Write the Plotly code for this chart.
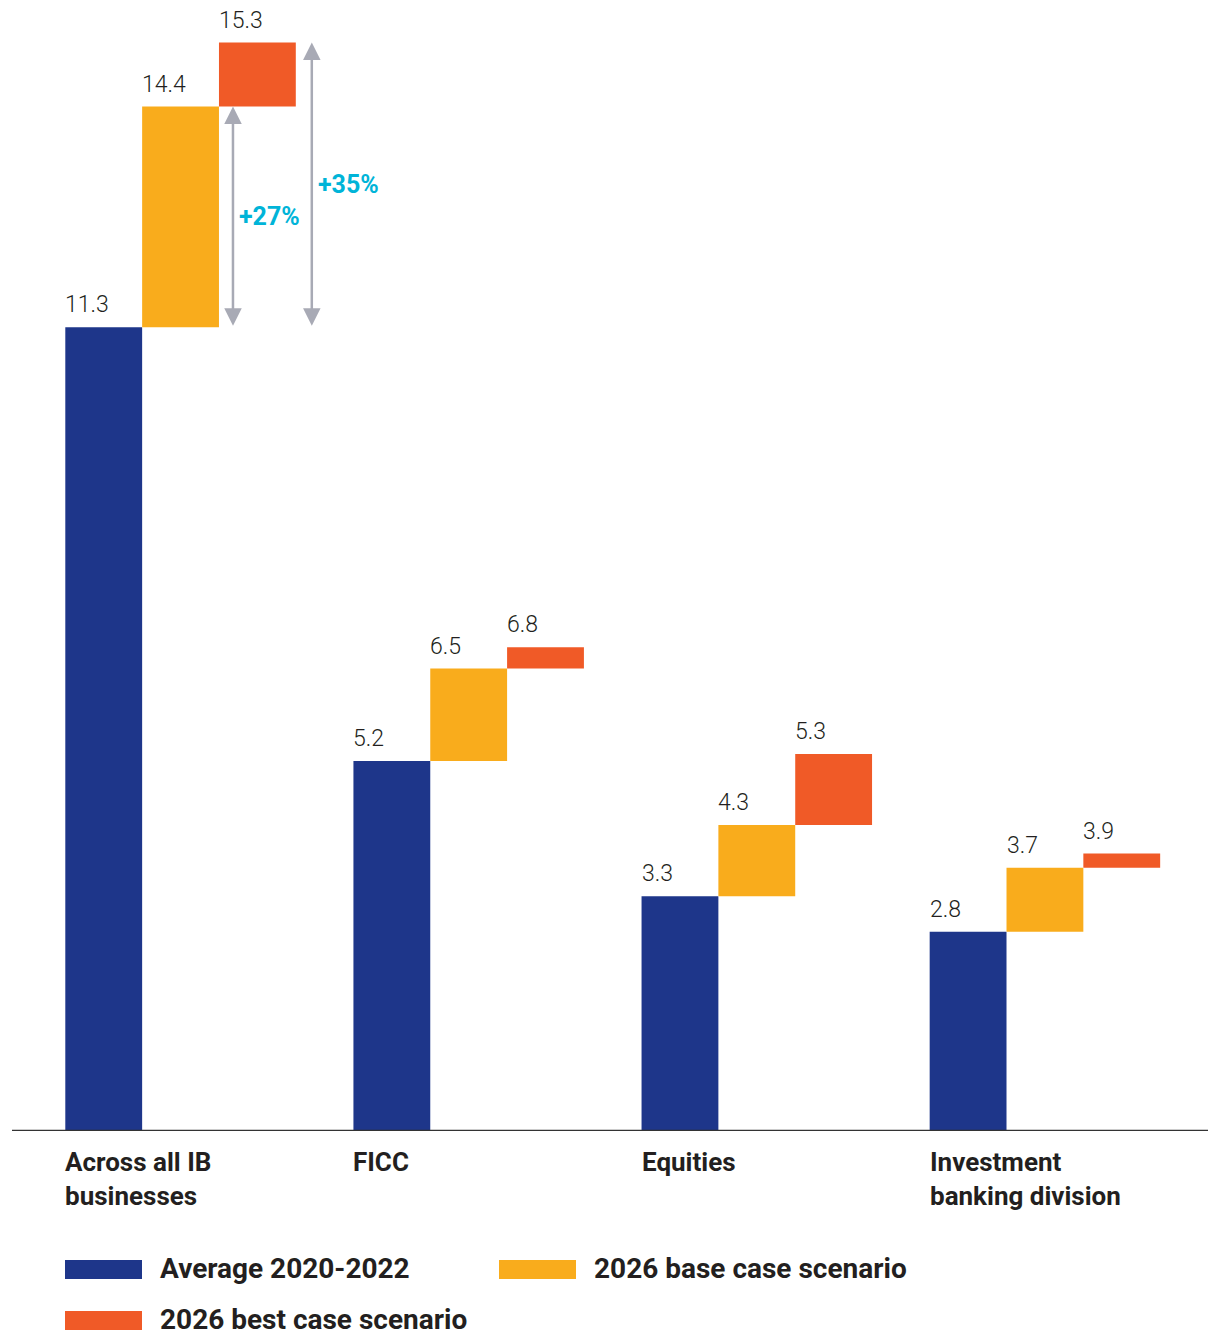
import plotly.graph_objects as go

# Revenue figures by business line
categories = ["Across all IB<br>businesses", "FICC", "Equities", "Investment<br>banking division"]
average_2020_2022 = [11.3, 5.2, 3.3, 2.8]
base_case_2026 = [14.4, 6.5, 4.3, 3.7]
best_case_2026 = [15.3, 6.8, 5.3, 3.9]
series_names = ["Average 2020-2022", "2026 base case scenario", "2026 best case scenario"]
growth_labels = ["+27%", "+35%"]

BLUE = "#1E368A"
ORANGE = "#F9AC1C"
RED = "#F05A27"
TEXT = "#231F20"
GREY = "#A8AAB5"
CYAN = "#00B4D8"

W, H = 1208, 1335
ML, MR, MT, MB = 12, 0, 7, 204
X_RANGE = [-0.585, 3.566]
Y_RANGE = [0, 15.8]
BAR_W = 0.8 / 3  # three bars sharing 80% of each slot

idx = list(range(len(categories)))

fig = go.Figure()
fig.add_trace(go.Bar(x=idx, y=average_2020_2022, base=[0] * len(idx),
                     marker_color=BLUE, name=series_names[0]))
fig.add_trace(go.Bar(x=idx, y=[b - a for a, b in zip(average_2020_2022, base_case_2026)],
                     base=average_2020_2022, marker_color=ORANGE, name=series_names[1]))
fig.add_trace(go.Bar(x=idx, y=[c - b for b, c in zip(base_case_2026, best_case_2026)],
                     base=base_case_2026, marker_color=RED, name=series_names[2]))
for t in fig.data:
    t.update(marker_line_width=0, hoverinfo="skip")

annotations = []
value_font = dict(family="Roboto", size=23, color=TEXT, weight=300)

# value labels, left-aligned over each bar
for i in idx:
    for k, vals in enumerate([average_2020_2022, base_case_2026, best_case_2026]):
        left = i + (k - 1.5) * BAR_W
        annotations.append(dict(x=left, y=vals[i], xref="x", yref="y", text=f"{vals[i]:.1f}",
                                showarrow=False, xanchor="left", yanchor="bottom",
                                xshift=-2, yshift=7, font=value_font))

# category labels under the axis
for i, cat in enumerate(categories):
    annotations.append(dict(x=i - 1.5 * BAR_W, y=0, xref="x", yref="y", text=f"<b>{cat}</b>",
                            showarrow=False, xanchor="left", yanchor="top", align="left",
                            xshift=-2, yshift=-14,
                            font=dict(family="Roboto", size=26, color=TEXT)))

# growth arrows for the all-business group
px_per_x = (W - ML - MR) / (X_RANGE[1] - X_RANGE[0])
arrow_specs = [
    (0.5 * BAR_W + 14 / px_per_x, base_case_2026[0], growth_labels[0]),
    (1.5 * BAR_W + 16 / px_per_x, best_case_2026[0], growth_labels[1]),
]
start = average_2020_2022[0]
for ax_x, top, lbl in arrow_specs:
    annotations.append(dict(x=ax_x, y=top, ax=ax_x, ay=start,
                            xref="x", yref="y", axref="x", ayref="y", text="",
                            showarrow=True, arrowside="end+start",
                            arrowhead=2, startarrowhead=2,
                            arrowsize=1.4, startarrowsize=1.4, arrowwidth=2.5,
                            arrowcolor=GREY, standoff=0, startstandoff=0))
    annotations.append(dict(x=ax_x, y=(top + start) / 2,
                            xref="x", yref="y", text=f"<b>{lbl}</b>", showarrow=False,
                            xanchor="left", yanchor="middle", xshift=4,
                            font=dict(family="Roboto", size=25, color=CYAN)))

# legend built from swatches and labels
shapes = [dict(type="line", xref="paper", yref="y", x0=0.0, x1=1.0, y0=0, y1=0,
               line=dict(color="#333333", width=2.5))]
legend_items = [(series_names[0], BLUE, 65, 1269), (series_names[1], ORANGE, 499, 1269),
                (series_names[2], RED, 65, 1320)]
pw, ph = W - ML - MR, H - MT - MB
for name, color, px, py in legend_items:
    x0 = (px - ML) / pw
    x1 = (px + 77 - ML) / pw
    y0 = 1 - (py + 10 - MT) / ph
    y1 = 1 - (py - 9 - MT) / ph
    shapes.append(dict(type="rect", xref="paper", yref="paper", x0=x0, x1=x1, y0=y0, y1=y1,
                       fillcolor=color, line_width=0))
    annotations.append(dict(x=(px + 94 - ML) / pw, y=1 - (py - 1 - MT) / ph, xref="paper",
                            yref="paper", text=f"<b>{name}</b>", showarrow=False,
                            xanchor="left", yanchor="middle", borderpad=0,
                            font=dict(family="Roboto", size=28, color=TEXT)))

fig.update_layout(
    width=W, height=H,
    margin=dict(l=ML, r=MR, t=MT, b=MB),
    barmode="group", bargap=0.2, bargroupgap=0,
    plot_bgcolor="white", paper_bgcolor="white",
    showlegend=False,
    xaxis=dict(range=X_RANGE, showticklabels=False, showgrid=False, zeroline=False,
               showline=False, ticks=""),
    yaxis=dict(range=Y_RANGE, showticklabels=False, showgrid=False, zeroline=False,
               showline=False, ticks=""),
    annotations=annotations,
    shapes=shapes,
)

fig.write_html("out.html")
